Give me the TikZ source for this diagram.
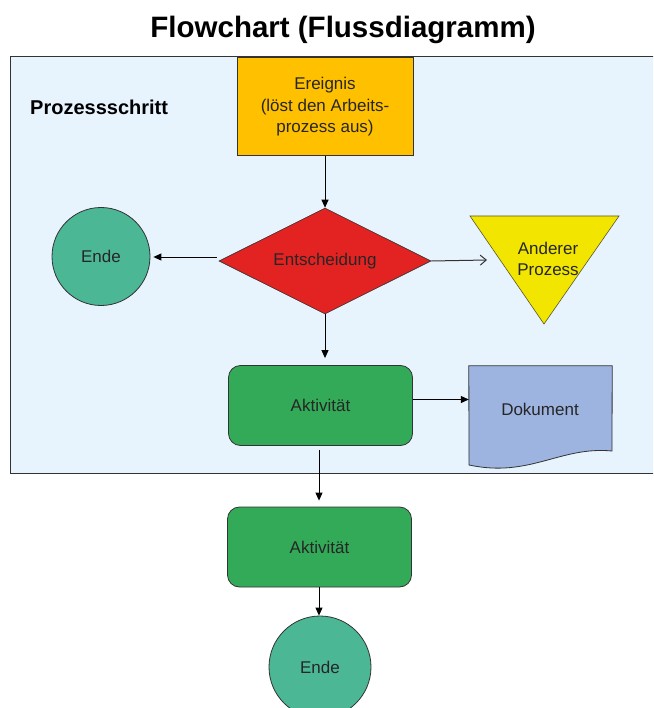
\documentclass[tikz,border=0pt]{standalone}
\usepackage{fontspec}
\setmainfont{Liberation Sans}
\usetikzlibrary{shapes.geometric,arrows.meta}
\definecolor{bgblue}{HTML}{E8F4FD}
\definecolor{evorange}{HTML}{FFC000}
\definecolor{decred}{HTML}{E32322}
\definecolor{endteal}{HTML}{4CB795}
\definecolor{triyellow}{HTML}{F2E600}
\definecolor{actgreen}{HTML}{33AA58}
\definecolor{docblue}{HTML}{9DB3E0}
\definecolor{edge}{HTML}{333333}
\tikzset{
  x=1pt, y=-1pt,
  body/.style={font=\fontsize{17}{21.5}\selectfont, text=black!85},
  evbox/.style={body, draw=edge, line width=1pt, fill=evorange, minimum width=176, minimum height=98, inner sep=0, align=center},
  decbox/.style={body, draw=edge, line width=0.6pt, fill=decred, diamond, shape aspect=2, minimum width=212, minimum height=106, inner sep=0},
  endcirc/.style={body, draw=edge, line width=0.8pt, fill=endteal, circle, inner sep=0},
  actbox/.style={body, draw=edge, line width=0.8pt, fill=actgreen, rounded corners=12pt, minimum width=184, minimum height=80, inner sep=0},
  plain/.style={body, inner sep=0, align=center},
  arr/.style={draw=black, line width=1pt, -{Triangle[length=8pt,width=7pt]}},
  openarr/.style={draw=edge, line width=1pt, -{Straight Barb[length=6pt,width=10pt]}},
}
\begin{document}
\begin{tikzpicture}
\clip (0,0) rectangle (653,708);
\fill[white] (0,0) rectangle (653,708);
% title
\node[font=\bfseries\fontsize{29.5}{33}\selectfont, inner sep=0] (title) at (343,30) {Flowchart (Flussdiagramm)};
% process step background
\draw[fill=bgblue, draw=edge, line width=1pt] (10.5,57) rectangle (670,473.5);
\node[font=\bfseries\fontsize{20}{24}\selectfont, anchor=west, inner sep=0] (pschritt) at (30,107) {Prozessschritt};
% event
\node[evbox] (ereignis) at (325,107) {Ereignis\\(löst den Arbeits-\\prozess aus)};
% decision
\node[decbox] (dia) at (325,261) {Entscheidung};
% end left
\node[endcirc, minimum size=98] (ende1) at (101,256.5) {Ende};
% other process triangle
\coordinate (tl) at (470,216);
\coordinate (tr) at (619,216);
\coordinate (tb) at (544,324);
\fill[triyellow] (tl) -- (tr) -- (tb) -- cycle;
\draw[draw=edge!80!triyellow, line width=0.6pt] (tl) -- (tr) -- (tb) -- cycle;
\node[plain] (anderer) at (548,259) {Anderer\\Prozess};
\coordinate (triin) at (487,260);
% activity 1
\node[actbox] (akt1) at (320.5,405.5) {Aktivität};
% document
\node[minimum width=143, minimum height=104, inner sep=0] (dok) at (540.5,418) {};
\draw[fill=docblue, draw=edge, line width=0.8pt]
  (dok.north west) -- (dok.north east) -- (612,451)
  .. controls (560,446) and (530,478) .. (469,465) -- cycle;
\node[plain] (dokt) at (540,409) {Dokument};
% activity 2
\node[actbox] (akt2) at (319.5,547) {Aktivität};
% end bottom
\node[endcirc, minimum size=102] (ende2) at (320,667) {Ende};
% connectors
\draw[arr] (ereignis.south) -- (dia.north);
\draw[arr, shorten <=2pt, shorten >=3pt] ([yshift=4pt]dia.west) -- (ende1.east |- 0,257);
\draw[openarr] (dia.east) -- (triin);
\draw[arr, shorten >=7pt] (dia.south) -- (dia.south |- akt1.north);
\draw[arr] ([yshift=6pt]akt1.east) -- ([yshift=6pt]akt1.east -| dok.west);
\draw[arr, shorten <=4pt, shorten >=6pt] (akt1.south -| 319,0) -- (akt2.north -| 319,0);
\draw[arr] (akt2.south -| 319,0) -- (ende2.north -| 319,0);
\end{tikzpicture}
\end{document}
